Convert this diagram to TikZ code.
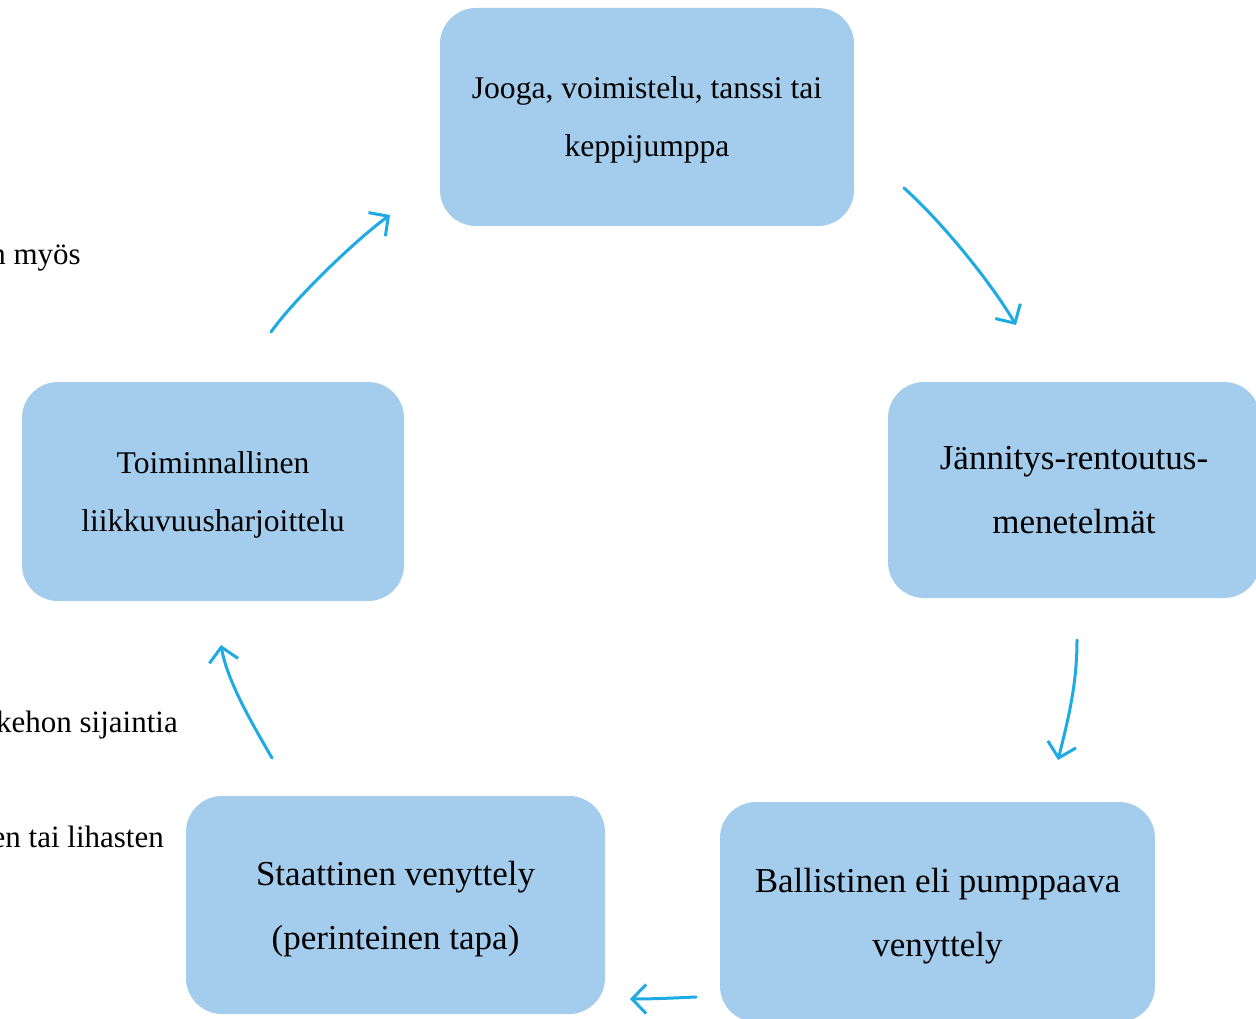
\documentclass[tikz,border=0pt]{standalone}
\usepackage{fontspec}
\setmainfont{Liberation Serif}
\usetikzlibrary{arrows.meta}
\definecolor{BoxClr}{RGB}{164,205,237}
\definecolor{ArrowClr}{RGB}{30,170,226}

\begin{document}
\begin{tikzpicture}[x=1pt,y=-1pt,
  box/.style={fill=BoxClr,rounded corners=36pt,inner sep=0pt,align=center,text depth=0pt},
  small/.style={font=\fontsize{31.6}{58}\selectfont},
  big/.style={font=\fontsize{35}{64}\selectfont},
  side/.style={font=\fontsize{31}{38}\selectfont,inner sep=0pt,anchor=base east},
  arr/.style={ArrowClr,line width=3pt,line cap=round,-{Straight Barb[length=14pt,width=29pt]}}]
\useasboundingbox (0,0) rectangle (1256,1019);
\clip (0,0) rectangle (1256,1019);

\node[side] (myos) at (81,265) {n myös};
\node[side] (kehon) at (178,732) {kehon sijaintia};
\node[side] (lihas) at (164,847) {en tai lihasten};

\node[box,small,minimum width=414pt,minimum height=218pt] (jooga) at (647,117) {Jooga, voimistelu, tanssi tai\\keppijumppa};
\node[box,big,minimum width=372pt,minimum height=216pt] (jannitys) at (1074,490) {Jännitys-rentoutus-\\menetelmät};
\node[box,big,minimum width=435pt,minimum height=220pt] (ballist) at (937.5,912) {Ballistinen eli pumppaava\\venyttely};
\node[box,big,minimum width=419pt,minimum height=218pt] (staatt) at (395.5,905) {Staattinen venyttely\\(perinteinen tapa)};
\node[box,small,minimum width=382pt,minimum height=219pt] (toimin) at (213,491.5) {Toiminnallinen\\liikkuvuusharjoittelu};

\coordinate (a1) at (904,188); \coordinate (b1) at (1016,325);
\coordinate (a2) at (1077,640); \coordinate (b2) at (1058,760);
\coordinate (a3) at (696,997); \coordinate (b3) at (630,999);
\coordinate (a4) at (272,758); \coordinate (b4) at (221,645);
\coordinate (a5) at (271,332); \coordinate (b5) at (390,215);

\draw[arr] (a1) .. controls +(37,33) and +(-26,-44) .. (b1);
\draw[arr] (a2) .. controls +(0,45) and +(10,-40) .. (b2);
\draw[arr] (a3) .. controls +(-22,1) and +(22,0) .. (b3);
\draw[arr] (a4) .. controls +(-22,-38) and +(6,35) .. (b4);
\draw[arr] (a5) .. controls +(24,-34) and +(-32,23) .. (b5);
\end{tikzpicture}
\end{document}
